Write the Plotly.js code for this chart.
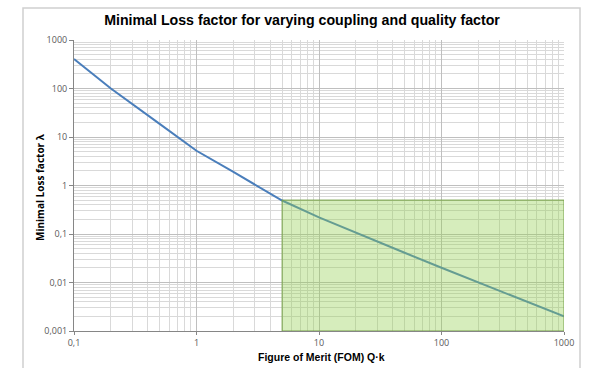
<!DOCTYPE html>
<html>
<head>
<meta charset="utf-8">
<script src="https://cdn.plot.ly/plotly-3.0.1.min.js"></script>
<style>
html,body{margin:0;padding:0;background:#fff;}
#chart{width:613px;height:368px;}
</style>
</head>
<body>
<div id="chart"></div>
<script>
// Data
const fom = [0.1, 0.2, 0.5, 0.71, 1, 2, 3, 5, 10, 20, 50, 100, 200, 500, 1000];
const lossFactor = [407, 100, 18.7, 10, 5.2, 1.9, 1.05, 0.49, 0.22, 0.105, 0.041, 0.0201, 0.01, 0.004, 0.002];

const xTickVals = [0.1, 1, 10, 100, 1000];
const xTickText = ["0,1", "1", "10", "100", "1000"];
const yTickVals = [0.001, 0.01, 0.1, 1, 10, 100, 1000];
const yTickText = ["0,001", "0,01", "0,1", "1", "10", "100", "1000"];

// highlighted region
const regionX = [5, 1000];
const regionY = [0.001, 0.5];

const trace = {
  x: fom, y: lossFactor, type: 'scatter', mode: 'lines',
  line: {color: '#4a7ebb', width: 2},
  hoverinfo: 'none'
};

const W = 613, H = 368, ML = 74, MR = 49, MT = 40, MB = 37;
const pw = W - ML - MR, ph = H - MT - MB;
const px = v => (v - ML) / pw;          // pixel -> paper x
const py = v => (H - MB - v) / ph;      // pixel -> paper y

const L = Math.log10;
const layout = {
  width: W, height: H,
  margin: {l: ML, r: MR, t: MT, b: MB},
  paper_bgcolor: '#ffffff', plot_bgcolor: '#ffffff',
  showlegend: false,
  font: {family: 'Liberation Sans, Arial, sans-serif', color: '#595959'},
  title: {
    text: '<b>Minimal Loss factor for varying coupling and quality factor</b>',
    font: {size: 14.2, color: '#000000', family: 'Liberation Sans, Arial, sans-serif'},
    x: px(302), xanchor: 'center', xref: 'paper', y: 0.945, yanchor: 'middle'
  },
  xaxis: {
    type: 'log', range: [L(0.1), L(1000)],
    tickvals: xTickVals, ticktext: xTickText,
    tickfont: {size: 9, color: '#595959', family: 'Open Sans, sans-serif'},
    showgrid: true, gridcolor: '#bfbfbf', gridwidth: 1,
    minor: {dtick: 'D1', showgrid: true, gridcolor: '#d9d9d9', gridwidth: 1, ticklen: 0},
    showline: true, linecolor: '#868686', linewidth: 1,
    ticks: 'outside', ticklen: 3, tickcolor: '#868686',
    zeroline: false
  },
  yaxis: {
    type: 'log', range: [L(0.001), L(1000)],
    tickvals: yTickVals, ticktext: yTickText,
    tickfont: {size: 9, color: '#595959', family: 'Open Sans, sans-serif'},
    showgrid: true, gridcolor: '#bfbfbf', gridwidth: 1,
    minor: {dtick: 'D1', showgrid: true, gridcolor: '#d9d9d9', gridwidth: 1, ticklen: 0},
    showline: true, linecolor: '#868686', linewidth: 1,
    ticks: 'outside', ticklen: 4, tickcolor: '#868686',
    zeroline: false
  },
  annotations: [
    {
      text: '<b>Figure of Merit (FOM) Q·k</b>', xref: 'paper', yref: 'paper',
      x: px(321), y: py(356.5), xanchor: 'center', yanchor: 'middle', showarrow: false,
      font: {size: 10.5, color: '#000000', family: 'Liberation Sans, Arial, sans-serif'}
    },
    {
      text: '<b>Minimal Loss factor λ</b>', xref: 'paper', yref: 'paper',
      x: px(40), y: py(187), xanchor: 'center', yanchor: 'middle', showarrow: false,
      textangle: -90,
      font: {size: 10, color: '#000000', family: 'Open Sans, sans-serif'}
    }
  ],
  shapes: [
    {
      type: 'rect', xref: 'x', yref: 'y', layer: 'above',
      x0: regionX[0], x1: regionX[1], y0: regionY[0], y1: regionY[1],
      fillcolor: 'rgba(146,208,80,0.38)',
      line: {color: '#77a04a', width: 1}
    },
    {
      type: 'rect', xref: 'paper', yref: 'paper', layer: 'below',
      x0: px(23), x1: px(580), y0: py(375), y1: py(8),
      fillcolor: 'rgba(0,0,0,0)',
      line: {color: '#d0d0d0', width: 1.5}
    }
  ]
};

Plotly.newPlot('chart', [trace], layout, {displayModeBar: false, staticPlot: true});
</script>
</body>
</html>
